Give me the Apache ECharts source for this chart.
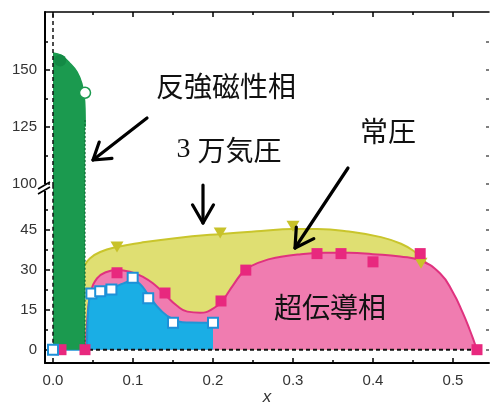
<!DOCTYPE html>
<html>
<head>
<meta charset="utf-8">
<script src="https://cdn.jsdelivr.net/npm/echarts@6/dist/echarts.min.js"></script>
<style>
html,body{margin:0;padding:0;background:#fff;}
#c{width:491px;height:407px;}
</style>
</head>
<body>
<div id="c"></div>
<script>
// ---- data ----
const xMajor = [0, 0.1, 0.2, 0.3, 0.4, 0.5];
const xMinor = [0.05, 0.15, 0.25, 0.35, 0.45];
const yLowLabels = [0, 15, 30, 45];
const yLowMinor = [7.5, 22.5, 37.5, 52.5];
const yHighLabels = [100, 125, 150];
const yHighMinor = [112.5, 137.5, 162.5];

// antiferromagnetic phase boundary (Neel temperature)
const greenCurve = [[0,157.5],[0.01,156.5],[0.021,153],[0.03,149.2],[0.036,144.1],[0.039,138.3],[0.04,132.4],[0.0402,125]];
const greenFilled = [[0.009,154.2]];
const greenOpen = [[0.04,140]];

// under 3 GPa (yellow)
const yellowCurve = [[0.04,31.8],[0.046,34.3],[0.059,36.7],[0.08,38.6],[0.11,40.2],[0.15,41.8],[0.21,43.5],[0.26,44.6],[0.30,45.3],[0.33,45.3],[0.37,44.4],[0.41,42.3],[0.435,39.8],[0.452,36.8],[0.462,34],[0.47,31.5]];
const yellowPoints = [[0.08,38.6],[0.209,43.8],[0.30,46.4],[0.46,32.5]];

// ambient pressure (pink)
const pinkCurve = [[0.041,0],[0.043,12],[0.047,21],[0.055,26.8],[0.067,29.2],[0.08,29.9],[0.096,29.3],[0.113,27.3],[0.1275,24.3],[0.14,20.7],[0.155,16.5],[0.168,14.3],[0.184,13.9],[0.2,15.4],[0.212,18.5],[0.225,24.2],[0.24,29.8],[0.26,33],[0.285,34.9],[0.31,35.9],[0.34,36.4],[0.37,36.4],[0.40,35.9],[0.434,35.0],[0.46,33.4],[0.484,28.6],[0.50,21.5],[0.512,14],[0.521,7.4],[0.527,2.5],[0.53,0]];
const pinkPoints = [[0.01,0],[0.04,0],[0.08,28.9],[0.14,21.3],[0.21,18.3],[0.241,29.9],[0.33,36.1],[0.36,36.1],[0.40,33.0],[0.459,36.1],[0.53,0]];

// blue
const blueCurve = [[0,0],[0.042,0],[0.043,9],[0.045,18],[0.048,21],[0.059,22.1],[0.073,23.1],[0.088,24.9],[0.0996,26.0],[0.109,24.6],[0.119,20.6],[0.134,15],[0.15,11.5],[0.171,10.2],[0.2,10.1]];
const bluePoints = [[0,0],[0.048,21.1],[0.059,22.0],[0.073,22.6],[0.0996,27.0],[0.119,19.3],[0.15,10.1],[0.2,10.1]];

// ---- layout ----
const X0 = 45, W = 444, TOP = 12, HTOP = 174, HBOT = 177;
const XMIN = -0.01, XMAX = 0.545;
const YH = [99, 175.5], YL = [-5, 61.5];

const chart = echarts.init(document.getElementById('c'), null, {renderer:'canvas'});

function xAx(grid, pos, ticks, len, line, labels) {
  return {
    type:'value', gridIndex:grid, position:pos, min:XMIN, max:XMAX,
    splitLine:{show:false},
    axisLine:{show:line, onZero:false, lineStyle:{color:'#000', width: pos==='top'?1.5:2}},
    axisTick:{show:true, inside:true, length:len, customValues:ticks, lineStyle:{color:'#000', width:1.5}},
    axisLabel: labels ? {show:true, customValues:xMajor, formatter:v=>v.toFixed(1), fontSize:15, color:'#333', margin:10, fontFamily:'Liberation Sans'} : {show:false}
  };
}
function yAx(grid, pos, range, ticks, len, line, labels) {
  return {
    type:'value', gridIndex:grid, position:pos, min:range[0], max:range[1],
    splitLine:{show:false},
    axisLine:{show:line, onZero:false, lineStyle:{color:'#000', width:2}},
    axisTick:{show:true, inside:true, length:len, customValues:ticks, lineStyle:{color: pos==='right'?'#555':'#000', width:1.5}},
    axisLabel: labels ? {show:true, customValues:labels, fontSize:15, color:'#333', margin:8, fontFamily:'Liberation Sans'} : {show:false}
  };
}

function arrow(x1,y1,x2,y2,len,angDeg){
  const dx=x1-x2, dy=y1-y2, d=Math.hypot(dx,dy), ux=dx/d, uy=dy/d;
  const a=angDeg*Math.PI/180, c=Math.cos(a), s=Math.sin(a);
  const b1=[x2+len*(ux*c-uy*s), y2+len*(ux*s+uy*c)];
  const b2=[x2+len*(ux*c+uy*s), y2+len*(-ux*s+uy*c)];
  const st={stroke:'#000', lineWidth:3.2, lineCap:'round', lineJoin:'round', fill:null};
  return [
    {type:'line', shape:{x1,y1,x2,y2}, style:st, z:100},
    {type:'polyline', shape:{points:[b1,[x2,y2],b2]}, style:st, z:100}
  ];
}

const cjk = '"Noto Sans CJK JP", "Noto Sans CJK SC", sans-serif';

const option = {
  animation:false,
  backgroundColor:'#fff',
  grid:[
    {left:X0, top:TOP, width:W, height:HTOP},
    {left:X0, top:TOP+HTOP, width:W, height:HBOT}
  ],
  xAxis:[
    Object.assign(xAx(1,'bottom',xMajor,5,true,true), {name:'x', nameLocation:'middle', nameGap:26, nameTextStyle:{fontStyle:'italic', fontSize:17, color:'#333', fontFamily:'Liberation Sans'}}),
    xAx(1,'bottom',xMinor,3,false,false),
    xAx(0,'top',xMajor,5,true,false),
    xAx(0,'top',xMinor,3,false,false)
  ],
  yAxis:[
    yAx(0,'left',YH,yHighLabels,5,true,yHighLabels),
    yAx(0,'left',YH,yHighMinor,3,false,null),
    yAx(0,'right',YH,yHighLabels.concat(yHighMinor),3,false,null),
    yAx(1,'left',YL,yLowLabels,5,true,yLowLabels),
    yAx(1,'left',YL,yLowMinor,3,false,null),
    yAx(1,'right',YL,yLowLabels.concat(yLowMinor),3,false,null)
  ],
  series:[
    {type:'line', xAxisIndex:0, yAxisIndex:3, data:yellowCurve, smooth:0.5, showSymbol:false,
      lineStyle:{color:'#c9c52c', width:2}, areaStyle:{color:'#dfdf72', opacity:1, origin:0}, z:1},
    {type:'line', xAxisIndex:0, yAxisIndex:3, data:pinkCurve, smooth:0.5, showSymbol:false,
      lineStyle:{color:'#e0327f', width:2}, areaStyle:{color:'#f07cb0', opacity:1, origin:0}, z:2},
    {type:'line', xAxisIndex:0, yAxisIndex:3, data:blueCurve, smooth:0.5, showSymbol:false,
      lineStyle:{color:'#1f95d6', width:2}, areaStyle:{color:'#1aaee5', opacity:1, origin:0}, z:3},
    {type:'line', xAxisIndex:0, yAxisIndex:3, data:[[0,61.5],[0.04,61.5]], showSymbol:false,
      lineStyle:{width:0, opacity:0}, areaStyle:{color:'#1b9a4f', opacity:1, origin:0}, z:4},
    {type:'line', xAxisIndex:2, yAxisIndex:0, data:greenCurve, smooth:0.4, showSymbol:false,
      lineStyle:{color:'#1b9a4f', width:1.5}, areaStyle:{color:'#1b9a4f', opacity:1, origin:'start'}, z:4},
    // dashed / dotted guide lines
    {type:'line', xAxisIndex:0, yAxisIndex:3, data:[[0,0],[0,61.5]], showSymbol:false, lineStyle:{color:'#111', width:1.5, type:[4,3]}, z:6},
    {type:'line', xAxisIndex:2, yAxisIndex:0, data:[[0,99],[0,175.5]], showSymbol:false, lineStyle:{color:'#111', width:1.5, type:[4,3]}, z:6},
    {type:'line', xAxisIndex:0, yAxisIndex:3, data:[[0.045,0],[0.53,0]], showSymbol:false, lineStyle:{color:'#111', width:2, type:[4,3]}, z:6},
    {type:'line', xAxisIndex:0, yAxisIndex:3, data:[[0.04,0],[0.04,61.5]], showSymbol:false, lineStyle:{color:'#0f6a34', width:1.2, type:[2,2]}, z:6},
    {type:'line', xAxisIndex:2, yAxisIndex:0, data:[[0.04,99],[0.04,128]], showSymbol:false, lineStyle:{color:'#0f6a34', width:1.2, type:[2,2]}, z:6},
    // markers
    {type:'scatter', xAxisIndex:0, yAxisIndex:3, data:yellowPoints, symbol:'triangle', symbolRotate:180, symbolSize:[13,11],
      itemStyle:{color:'#c8c22a', opacity:1}, z:8},
    {type:'scatter', xAxisIndex:0, yAxisIndex:3, data:pinkPoints, symbol:'rect', symbolSize:11,
      itemStyle:{color:'#e8287e', opacity:1}, z:9},
    {type:'scatter', xAxisIndex:0, yAxisIndex:3, data:bluePoints, symbol:'rect', symbolSize:10,
      itemStyle:{color:'#ffffff', borderColor:'#1e90d8', borderWidth:2, opacity:1}, z:9},
    {type:'scatter', xAxisIndex:2, yAxisIndex:0, data:greenFilled, symbol:'circle', symbolSize:12,
      itemStyle:{color:'#138a45', opacity:1}, z:9},
    {type:'scatter', xAxisIndex:2, yAxisIndex:0, data:greenOpen, symbol:'circle', symbolSize:11,
      itemStyle:{color:'#ffffff', borderColor:'#1b9a4f', borderWidth:1.5, opacity:1}, z:9}
  ],
  graphic:[
    // axis break marks
    {type:'rect', shape:{x:42, y:184, width:6, height:7}, style:{fill:'#fff'}, z:50},
    {type:'line', shape:{x1:38, y1:189, x2:50, y2:182}, style:{stroke:'#000', lineWidth:1.6}, z:51},
    {type:'line', shape:{x1:38, y1:194, x2:50, y2:187}, style:{stroke:'#000', lineWidth:1.6}, z:51},
    // labels
    {type:'text', x:226, y:86, style:{text:'反強磁性相', font:'28px '+cjk, fill:'#111', align:'center', verticalAlign:'middle'}, z:100},
    {type:'text', x:229, y:150, style:{text:'{a|3\u00a0}{b|万気圧}', align:'center', verticalAlign:'middle', fill:'#111',
      rich:{a:{fontFamily:'Liberation Serif', fontSize:28, fill:'#111'}, b:{fontFamily:cjk, fontSize:28, fill:'#111'}}}, z:100},
    {type:'text', x:388, y:131, style:{text:'常圧', font:'28px '+cjk, fill:'#111', align:'center', verticalAlign:'middle'}, z:100},
    {type:'text', x:330, y:307, style:{text:'超伝導相', font:'28px '+cjk, fill:'#111', align:'center', verticalAlign:'middle'}, z:100}
  ].concat(arrow(147,118,93,160,19,33), arrow(203,185,203,223,21,30), arrow(348,168,295,248,21,30))
};
chart.setOption(option);
</script>
</body>
</html>
